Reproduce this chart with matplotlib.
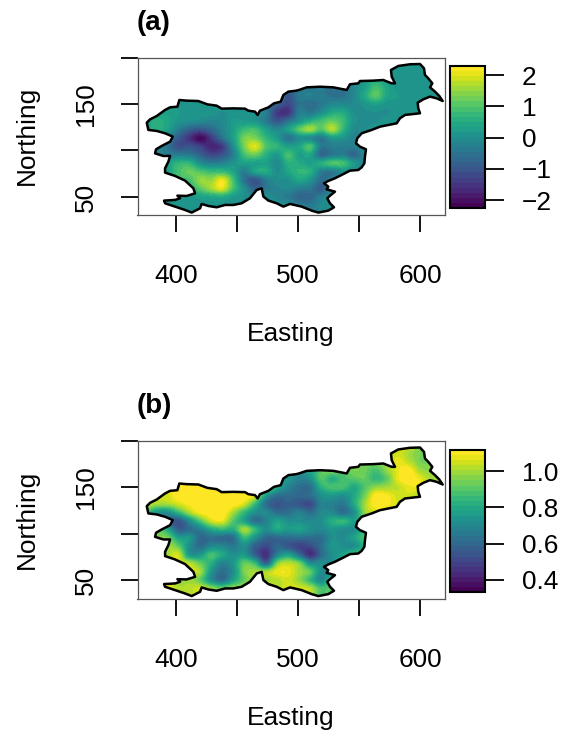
# Two maps of a spatial field and its standard error over Slovenia.

import numpy as np
import matplotlib
matplotlib.use("Agg")
import matplotlib.pyplot as plt
from matplotlib.patches import Polygon

plt.rcParams['font.family'] = ['Liberation Sans', 'DejaVu Sans']

# Border of the country (Easting, Northing)
border_x = [376.0, 378.7, 384.2, 391.0, 395.1, 401.1, 402.7, 408.7, 418.3, 425.7, 433.3, 437.4, 447.0, 456.5, 459.3,
            464.7, 466.9, 468.8, 475.7, 480.3, 485.8, 488.0, 492.1, 498.3, 500.8, 507.1, 518.0, 529.0, 534.4, 539.9,
            542.6, 549.4, 550.8, 561.7, 569.9, 576.8, 579.5, 576.8, 576.2, 582.2, 591.8, 600.0, 603.3, 604.1, 606.8,
            610.1, 608.2, 612.3, 615.8, 618.6, 613.6, 608.2, 602.7, 598.1, 598.6, 600.0, 594.5, 587.7, 583.6, 580.9,
            574.0, 567.2, 560.4, 552.2, 548.6, 547.5, 550.8, 555.7, 554.9, 554.4, 552.2, 549.4, 542.6, 535.8, 530.3,
            524.8, 521.3, 524.8, 523.5, 530.3, 526.2, 524.0, 526.2, 529.5, 524.8, 516.7, 511.2, 503.0, 493.4, 488.0,
            482.5, 475.7, 471.6, 470.2, 466.1, 460.6, 453.8, 447.0, 440.2, 433.3, 426.5, 421.0, 419.7, 412.8, 407.4,
            399.2, 391.0, 390.2, 399.2, 403.3, 401.1, 408.7, 415.6, 414.2, 407.4, 399.2, 391.0, 391.0, 393.7, 395.1,
            389.6, 382.8, 383.6, 388.3, 395.1, 397.3, 391.0, 384.2, 377.3]
border_y = [129.9, 133.5, 137.1, 143.6, 146.4, 147.1, 154.3, 153.6, 153.2, 149.6, 148.2, 145.0, 145.3, 145.0, 142.8,
            141.8, 138.2, 142.8, 146.4, 150.7, 152.5, 159.7, 163.3, 164.3, 165.1, 167.9, 168.6, 167.9, 166.5, 165.1,
            171.2, 172.2, 174.7, 175.1, 175.8, 172.2, 172.2, 179.4, 186.6, 190.9, 192.7, 193.0, 188.3, 181.2, 177.6,
            172.2, 167.9, 163.3, 158.6, 153.2, 156.1, 157.9, 155.0, 151.4, 145.3, 140.0, 139.2, 138.2, 134.6, 129.2,
            127.4, 125.6, 122.1, 118.5, 113.1, 107.7, 104.1, 101.3, 93.4, 86.2, 81.9, 79.0, 78.3, 73.7, 70.1,
            67.2, 64.7, 61.1, 58.2, 55.7, 51.4, 48.6, 43.2, 38.9, 35.3, 33.2, 35.3, 39.6, 42.5, 39.6,
            43.2, 46.1, 50.4, 59.3, 57.5, 48.6, 43.2, 41.4, 41.4, 38.9, 40.3, 42.5, 37.8, 33.2, 36.0,
            39.6, 43.2, 46.1, 46.8, 48.6, 51.4, 51.1, 53.9, 59.3, 67.6, 72.6, 76.2, 80.8, 88.0, 94.1,
            94.1, 96.9, 101.3, 104.9, 109.5, 114.9, 118.5, 121.0, 122.1]

# Grid of the fields, 9 km apart, rows listed from north to south
grid_east = [375, 384, 393, 402, 411, 420, 429, 438, 447, 456, 465, 474, 483, 492, 501, 510, 519, 528, 537, 546,
             555, 564, 573, 582, 591, 600, 609, 618]
grid_north = [194, 185, 176, 167, 158, 149, 140, 131, 122, 113, 104, 95, 86, 77, 68, 59, 50, 41, 32]

pred = [
    [.2, .2, .2, .1, .1, .1, .1, .0, .0, -.1, -.1, -.2, -.3, -.5, -.4, -.4, -.4, -.5, -.3, -.1, .1, .2, .1, .1, .1, .1, .1, .1],
    [.2, .2, .2, .1, .1, .1, .1, .0, .0, -.1, -.1, -.2, -.3, -.5, -.4, -.4, -.4, -.5, -.3, -.1, .1, .2, .1, .1, .1, .1, .1, .1],
    [.2, .2, .2, .1, .1, .1, .1, .0, .0, -.1, -.1, -.2, -.3, -.5, -.4, -.4, -.4, -.6, -.5, -.1, .2, .5, .2, .1, .1, .1, .1, .1],
    [.2, .2, .2, .1, .1, .1, .1, .0, .0, -.1, -.1, -.2, -.3, -.6, -.4, -.4, -.4, -.6, -.5, -.1, .3, .9, .4, .1, .1, .1, .1, .1],
    [.2, .2, .2, .1, .1, .1, .1, .0, .0, -.1, -.1, -.2, -.3, -1.0, -.4, -.3, -.4, -.5, -.5, -.1, .5, 1.1, .4, .2, .1, .1, .1, .1],
    [.2, .2, .2, .1, .1, .1, .1, .1, .0, -.1, -.1, -.4, -.8, -1.2, -.5, -.6, -.4, -.1, -.1, -.1, .1, .3, .1, .1, .1, .1, .1, .1],
    [.3, .3, .3, .2, .1, .1, .1, .0, .1, .1, .0, -.3, -1.4, -1.5, -.3, -.4, .0, .5, .5, .0, .0, .0, .0, .1, .1, .1, .1, .1],
    [.3, .6, .4, .1, .0, -.1, -.2, -.1, .2, .2, .1, -.4, -1.0, -.5, .1, .6, .9, 1.2, .8, .1, .0, .0, .1, .1, .1, .1, .1, .1],
    [.3, .6, .3, -.3, -.8, -1.0, -.7, -.2, .3, .8, .9, .3, -.1, .3, 1.1, 1.6, 1.0, 1.7, .7, -.1, .0, .1, .1, .1, .1, .1, .1, .1],
    [.1, .1, -.3, -.9, -1.5, -2.1, -1.4, -.5, .3, 1.3, 1.3, .7, .2, -.5, .0, -.1, -.4, .2, .1, -.2, .0, .1, .1, .1, .1, .1, .1, .1],
    [-.1, -.1, -.5, -1.1, -1.0, -1.3, -1.7, -1.4, .0, 1.3, 2.0, 1.0, .7, .3, .4, 1.0, -.4, -.3, -.3, -.3, .0, .1, .1, .1, .1, .1, .1, .1],
    [-.1, -.1, -.3, -.3, -.4, -.8, -1.2, -1.0, -.3, .9, 1.2, .6, .2, .9, .3, .4, -.7, -.4, -.3, -.7, -.1, .1, .1, .1, .1, .1, .1, .1],
    [.3, .3, .3, .7, .7, .0, -.3, -.2, .1, .3, .3, .3, -.1, .6, .5, .3, .6, 1.0, .9, .2, -.2, .1, .1, .1, .1, .1, .1, .1],
    [.3, .3, .3, .9, 1.2, 1.0, .8, .8, .4, -.3, .4, .5, .0, .4, .7, .6, -.3, -.4, .0, -.1, -.1, .1, .1, .1, .1, .1, .1, .1],
    [.3, .3, .5, .9, .9, 1.5, 1.5, 2.1, .9, -.5, -1.0, -.3, .0, .0, .4, .1, -.6, -.3, -.1, -.1, -.1, .1, .1, .1, .1, .1, .1, .1],
    [.1, .1, .3, .6, .6, 1.1, 1.6, 2.0, .9, .0, -.8, -.4, -.2, -.1, -.3, -.4, -.9, -.2, -.1, -.1, .0, .1, .1, .1, .1, .1, .1, .1],
    [.1, .1, .1, .1, .1, .3, .4, .5, .2, .0, -.2, .0, -.2, -.4, -.7, -.7, -.3, .0, .0, .0, .1, .1, .1, .1, .1, .1, .1, .1],
    [.1, .1, .1, .1, .1, .1, .1, .1, .1, .0, .0, .0, .0, -.1, -.4, -.4, -.1, .0, .0, .0, .1, .1, .1, .1, .1, .1, .1, .1],
    [.1, .1, .1, .1, .1, .1, .1, .1, .1, .0, .0, .0, .0, -.1, -.4, -.4, -.1, .0, .0, .0, .1, .1, .1, .1, .1, .1, .1, .1],
]

stderr = [
    [1.08, 1.08, 1.08, 1.12, 1.12, 1.12, 1.1, 1.12, 1.12, 1.1, 1.08, 1.0, .72, .75, .72, .78, .92, .95, .9, .95, .95, .95, 1.0, 1.05, 1.05, .95, .95, 1.0],
    [1.08, 1.08, 1.08, 1.12, 1.12, 1.12, 1.1, 1.12, 1.12, 1.1, 1.08, 1.0, .72, .75, .72, .78, .92, .95, .9, .95, .95, .95, 1.0, 1.05, 1.0, .95, .95, 1.0],
    [1.08, 1.08, 1.08, 1.12, 1.12, 1.12, 1.1, 1.12, 1.12, 1.1, 1.08, 1.0, .72, .75, .72, .78, .92, .95, .9, .95, .95, .95, 1.0, 1.08, 1.03, .95, .95, 1.0],
    [1.08, 1.08, 1.08, 1.12, 1.12, 1.12, 1.1, 1.12, 1.12, 1.1, 1.08, 1.0, .72, .75, .72, .78, .92, .95, .9, .95, .93, .88, .98, 1.08, 1.12, 1.0, .98, 1.0],
    [1.08, 1.08, 1.08, 1.12, 1.12, 1.12, 1.1, 1.12, 1.12, 1.1, 1.08, 1.0, .72, .75, .68, .72, .9, .82, .88, .9, .92, .85, .92, 1.08, 1.12, 1.08, 1.0, 1.0],
    [1.08, 1.08, 1.08, 1.12, 1.12, 1.12, 1.1, 1.12, 1.12, 1.1, 1.08, 1.0, .8, .68, .62, .62, .82, .88, .88, .8, .9, .98, 1.0, 1.03, 1.08, 1.08, 1.0, 1.0],
    [1.05, 1.05, 1.05, 1.12, 1.12, 1.12, 1.12, 1.13, 1.13, 1.13, 1.05, .75, .62, .62, .6, .62, .72, .75, .72, .8, .95, 1.12, 1.1, 1.05, 1.05, 1.0, 1.0, 1.0],
    [1.05, 1.0, 1.0, 1.05, 1.1, 1.12, 1.12, 1.13, 1.12, 1.05, .85, .62, .55, .58, .55, .52, .68, .68, .65, .8, 1.0, 1.12, 1.1, 1.05, 1.0, 1.0, 1.0, 1.0],
    [.9, .75, .72, .85, 1.0, 1.1, 1.12, 1.13, 1.0, .85, .72, .7, .62, .62, .68, .62, .7, .7, .62, .72, .98, 1.05, 1.05, 1.0, 1.0, 1.0, 1.0, 1.0],
    [.78, .78, .62, .55, .72, .9, 1.05, 1.08, .9, .78, .62, .68, .78, .72, .72, .7, .72, .82, .85, .78, .9, 1.0, 1.0, 1.0, 1.0, 1.0, 1.0, 1.0],
    [.95, .95, .8, .58, .62, .68, .8, .85, .82, 1.0, .85, .72, .8, .75, .78, .72, .7, .75, .72, .72, .88, 1.0, 1.0, 1.0, 1.0, 1.0, 1.0, 1.0],
    [.95, .95, .95, .78, .75, .6, .62, .6, .62, .85, .72, .6, .6, .62, .62, .62, .62, .72, .72, .78, .9, 1.0, 1.0, 1.0, 1.0, 1.0, 1.0, 1.0],
    [1.0, 1.0, 1.0, .92, .72, .62, .7, .7, .65, .72, .58, .52, .6, .55, .5, .52, .62, .75, .72, .72, .85, 1.0, 1.0, 1.0, 1.0, 1.0, 1.0, 1.0],
    [1.0, 1.0, 1.0, 1.05, .75, .75, .88, .8, .72, .75, .58, .45, .68, .78, .62, .45, .6, .72, .78, .88, .88, 1.0, 1.0, 1.0, 1.0, 1.0, 1.0, 1.0],
    [1.0, 1.0, 1.05, 1.05, 1.02, .92, .82, .68, .75, .92, .85, .58, .95, 1.02, .95, .72, .72, .72, .85, .85, .85, 1.0, 1.0, 1.0, 1.0, 1.0, 1.0, 1.0],
    [1.05, 1.05, 1.05, 1.05, 1.05, 1.0, .75, .62, .72, .95, 1.0, 1.0, 1.08, 1.08, 1.0, .92, .72, .7, .8, .85, .85, 1.0, 1.0, 1.0, 1.0, 1.0, 1.0, 1.0],
    [1.05, 1.05, 1.05, .98, 1.0, .92, .72, .62, .78, .92, 1.02, 1.0, 1.02, 1.05, .98, .85, .7, .85, .85, .85, .85, 1.0, 1.0, 1.0, 1.0, 1.0, 1.0, 1.0],
    [1.08, 1.08, 1.08, 1.02, 1.02, 1.05, .98, .92, .98, 1.0, 1.05, 1.05, 1.03, 1.05, 1.05, 1.02, .88, .92, .92, .92, .92, 1.0, 1.0, 1.0, 1.0, 1.0, 1.0, 1.0],
    [1.08, 1.08, 1.08, 1.02, 1.02, 1.05, .98, .92, .98, 1.0, 1.05, 1.05, 1.03, 1.05, 1.05, 1.02, .88, .92, .92, .92, .92, 1.0, 1.0, 1.0, 1.0, 1.0, 1.0, 1.0],
]

x_ticks = [400, 450, 500, 550, 600]
x_labels = ["400", "", "500", "", "600"]
y_ticks = [50, 100, 150, 200]
y_labels = ["50", "", "150", ""]

W, H = 561, 735
FS = 18.9
TICK_LEN = 12.5


# Axes rectangle from pixel edges measured from the top left corner
def pixelAxes(fig, left, top, right, bottom):
    return fig.add_axes([left / W, 1 - bottom / H, (right - left) / W, (bottom - top) / H])


def drawPanel(fig, values, letter, top, bar_top, vmin, vmax, bar_ticks, bar_labels):
    ax = pixelAxes(fig, 137.5, top, 445, top + 157.5)
    cmap = plt.get_cmap("viridis", 28)
    step_x = (grid_east[1] - grid_east[0]) / 2
    step_y = (grid_north[0] - grid_north[1]) / 2
    # catrom passes through the grid values, the default bicubic flattens the peaks
    im = ax.imshow(np.array(values), cmap=cmap, vmin=vmin, vmax=vmax, aspect="auto", origin="upper",
                   interpolation="catrom", interpolation_stage="data",
                   extent=[grid_east[0] - step_x, grid_east[-1] + step_x,
                           grid_north[-1] - step_y, grid_north[0] + step_y])
    # Clip the field to the border, then draw the border itself
    clip = Polygon(np.column_stack([border_x, border_y]), closed=True, transform=ax.transData,
                   fill=False, edgecolor="none")
    ax.add_patch(clip)
    im.set_clip_path(clip)
    ax.add_patch(Polygon(np.column_stack([border_x, border_y]), closed=True, fill=False,
                         edgecolor="black", linewidth=1.8, joinstyle="round"))

    ax.set_xlim(368.4, 620.5)
    ax.set_ylim(30.6, 200)
    for s in ax.spines.values():
        s.set_color("#555555")
        s.set_linewidth(0.9)
    ax.set_xticks(x_ticks, x_labels, fontsize=FS)
    ax.set_yticks(y_ticks, y_labels, fontsize=FS, rotation=90, va="center")
    ax.tick_params(axis="x", length=TICK_LEN, width=1.3, pad=23)
    ax.tick_params(axis="y", length=TICK_LEN, width=1.3, pad=16)

    fig.text(291 / W, 1 - (top + 277) / H, "Easting", fontsize=FS, ha="center", va="center")
    fig.text(27 / W, 1 - (top + 78) / H, "Northing", fontsize=FS, rotation=90, ha="center", va="center")
    fig.text(137 / W, 1 - (top - 35) / H, letter, fontsize=20, fontweight="bold", ha="left", va="center")

    cax = pixelAxes(fig, 450, bar_top, 485, bar_top + 142)
    cb = fig.colorbar(im, cax=cax)
    cb.set_ticks(bar_ticks, labels=bar_labels)
    cb.outline.set_linewidth(1.5)
    cax.tick_params(axis="y", length=13.5, width=1.3, pad=13, labelsize=FS)
    cb.minorticks_off()


def main():
    fig = plt.figure(figsize=(W / 100, H / 100), dpi=100)
    drawPanel(fig, pred, "(a)", 57.5, 66, -2.25, 2.29, [-2, -1, 0, 1, 2],
              ["\u22122", "\u22121", "0", "1", "2"])
    drawPanel(fig, stderr, "(b)", 441, 450, 0.333, 1.117, [0.4, 0.6, 0.8, 1.0],
              ["0.4", "0.6", "0.8", "1.0"])
    fig.savefig("out.png", dpi=100)


# Main function
if __name__ == "__main__":
    main()
